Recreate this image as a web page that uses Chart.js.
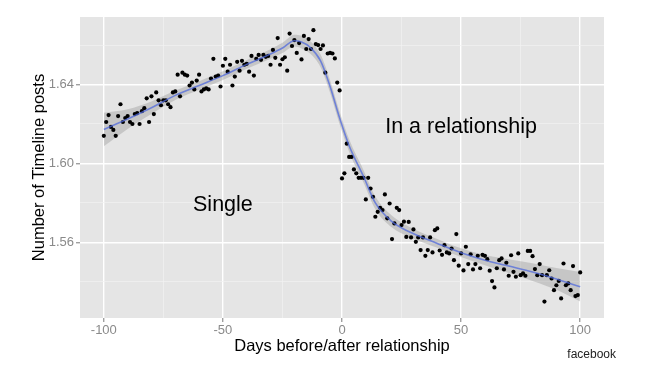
<!DOCTYPE html>
<html>
<head>
<meta charset="utf-8">
<script src="https://cdn.jsdelivr.net/npm/chart.js@4.4.0/dist/chart.umd.min.js"></script>
<style>
  body { margin: 0; background: #fff; }
  #wrap { width: 657px; height: 367px; position: relative; }
</style>
</head>
<body>
<div id="wrap"><canvas id="timeline-chart"></canvas></div>
<script>
// Days relative to the relationship start
var days = [
  -100, -99, -98, -97, -96, -95, -94, -93, -92, -91, -90, -89, -88, -87, -86, -85, -84, -83, -82, -81,
  -80, -79, -78, -77, -76, -75, -74, -73, -72, -71, -70, -69, -68, -67, -66, -65, -64, -63, -62, -61,
  -60, -59, -58, -57, -56, -55, -54, -53, -52, -51, -50, -49, -48, -47, -46, -45, -44, -43, -42, -41,
  -40, -39, -38, -37, -36, -35, -34, -33, -32, -31, -30, -29, -28, -27, -26, -25, -24, -23, -22, -21,
  -20, -19, -18, -17, -16, -15, -14, -13, -12, -11, -10, -9, -8, -7, -6, -5, -4, -3, -2, -1,
  0, 1, 2, 3, 4, 5, 6, 7, 8, 9, 10, 11, 12, 13, 14, 15, 16, 17, 18, 19,
  20, 21, 22, 23, 24, 25, 26, 27, 28, 29, 30, 31, 32, 33, 34, 35, 36, 37, 38, 39,
  40, 41, 42, 43, 44, 45, 46, 47, 48, 49, 50, 51, 52, 53, 54, 55, 56, 57, 58, 59,
  60, 61, 62, 63, 64, 65, 66, 67, 68, 69, 70, 71, 72, 73, 74, 75, 76, 77, 78, 79,
  80, 81, 82, 83, 84, 85, 86, 87, 88, 89, 90, 91, 92, 93, 94, 95, 96, 97, 98, 99,
  100
];

// Average number of timeline posts for each day
var posts = [
  1.6140, 1.6210, 1.6245, 1.6185, 1.6170, 1.6140, 1.6240, 1.6300, 1.6210, 1.6230,
  1.6240, 1.6210, 1.6200, 1.6250, 1.6255, 1.6200, 1.6265, 1.6280, 1.6330, 1.6210,
  1.6340, 1.6250, 1.6360, 1.6320, 1.6295, 1.6320, 1.6320, 1.6300, 1.6285, 1.6360,
  1.6365, 1.6450, 1.6340, 1.6460, 1.6450, 1.6445, 1.6395, 1.6410, 1.6375, 1.6420,
  1.6450, 1.6365, 1.6375, 1.6380, 1.6375, 1.6430, 1.6530, 1.6440, 1.6445, 1.6390,
  1.6495, 1.6530, 1.6465, 1.6500, 1.6395, 1.6440, 1.6515, 1.6470, 1.6520, 1.6500,
  1.6505, 1.6465, 1.6545, 1.6445, 1.6530, 1.6550, 1.6525, 1.6550, 1.6540, 1.6545,
  1.6500, 1.6575, 1.6535, 1.6635, 1.6500, 1.6528, 1.6538, 1.6470, 1.6658, 1.6595,
  1.6625, 1.6560, 1.6610, 1.6527, 1.6646, 1.6580, 1.6630, 1.6580, 1.6675, 1.6605,
  1.6600, 1.6580, 1.6598, 1.6460, 1.6557, 1.6560, 1.6557, 1.6532, 1.6410, 1.6370,
  1.5924, 1.5950, 1.6100, 1.6033, 1.6033, 1.5970, 1.5950, 1.5927, 1.5927, 1.5927,
  1.5818, 1.5927, 1.5873, 1.5831, 1.5730, 1.5755, 1.5775, 1.5764, 1.5843, 1.5722,
  1.5797, 1.5617, 1.5696, 1.5775, 1.5764, 1.5688, 1.5705, 1.5628, 1.5704, 1.5625,
  1.5666, 1.5603, 1.5625, 1.5561, 1.5625, 1.5532, 1.5561, 1.5625, 1.5549, 1.5662,
  1.5671, 1.5559, 1.5537, 1.5586, 1.5549, 1.5544, 1.5569, 1.5510, 1.5642, 1.5482,
  1.5544, 1.5458, 1.5578, 1.5490, 1.5540, 1.5463, 1.5490, 1.5532, 1.5469, 1.5537,
  1.5532, 1.5515, 1.5457, 1.5404, 1.5372, 1.5469, 1.5510, 1.5519, 1.5463, 1.5497,
  1.5431, 1.5535, 1.5451, 1.5426, 1.5544, 1.5434, 1.5443, 1.5431, 1.5557, 1.5557,
  1.5530, 1.5465, 1.5434, 1.5490, 1.5434, 1.5300, 1.5434, 1.5459, 1.5417, 1.5358,
  1.5383, 1.5405, 1.5316, 1.5493, 1.5383, 1.5392, 1.5358, 1.5480, 1.5328, 1.5333,
  1.5448
];

// Smoothed trend (loess) and its standard error band, read at a few days
var smoothDays = [-100, -90, -80, -70, -60, -50, -40, -30, -25, -20, -17, -13.5, -9, -5, -1, 3, 9, 14, 21, 28, 40, 50, 60, 70, 80, 90, 100];
var smoothFit  = [1.6172, 1.6225, 1.6282, 1.6345, 1.6395, 1.6445, 1.6502, 1.6555, 1.6585, 1.6622, 1.6615, 1.6590, 1.6520, 1.6390, 1.6230, 1.6090, 1.5935, 1.5800, 1.5705, 1.5655, 1.5595, 1.5548, 1.5510, 1.5480, 1.5450, 1.5415, 1.5375];
var smoothSe   = [0.0085, 0.0050, 0.0032, 0.0024, 0.0022, 0.0022, 0.0022, 0.0024, 0.0026, 0.0030, 0.0032, 0.0032, 0.0032, 0.0032, 0.0032, 0.0032, 0.0032, 0.0032, 0.0030, 0.0026, 0.0022, 0.0022, 0.0026, 0.0035, 0.0045, 0.0055, 0.0075];

// Axis ticks (major get labels, minor only grid lines)
var xTicks = [-100, -75, -50, -25, 0, 25, 50, 75, 100];
var xMajor = [-100, -50, 0, 50, 100];
var yTicks = [1.54, 1.56, 1.58, 1.60, 1.62, 1.64, 1.66];
var yMajor = [1.56, 1.60, 1.64];

// Text labels inside the panel
var labelSingle = { text: "Single", day: -50, posts: 1.579 };
var labelRelationship = { text: "In a relationship", day: 50, posts: 1.6185 };

var FONT = "'Liberation Sans', Arial, Helvetica, sans-serif";

function isMajor(list, v) {
  for (var i = 0; i < list.length; i++) {
    if (Math.abs(list[i] - v) < 1e-6) return true;
  }
  return false;
}

// Build {x, y} arrays for chart.js
var pointData = days.map(function(d, i) { return { x: d, y: posts[i] }; });
var fitData = smoothDays.map(function(d, i) { return { x: d, y: smoothFit[i] }; });
var upperData = smoothDays.map(function(d, i) { return { x: d, y: smoothFit[i] + smoothSe[i] }; });
var lowerData = smoothDays.map(function(d, i) { return { x: d, y: smoothFit[i] - smoothSe[i] }; });

// ggplot style grey panel + text labels
var ggPlugin = {
  id: 'ggPanel',
  beforeDraw: function(chart) {
    var a = chart.chartArea;
    var ctx = chart.ctx;
    ctx.save();
    ctx.fillStyle = '#e5e5e5';
    ctx.fillRect(a.left, a.top, a.right - a.left, a.bottom - a.top);
    ctx.restore();
  },
  afterDraw: function(chart) {
    var ctx = chart.ctx;
    var xs = chart.scales.x, ys = chart.scales.y;
    var a = chart.chartArea;
    ctx.save();
    ctx.fillStyle = '#000';
    ctx.textAlign = 'center';
    ctx.textBaseline = 'middle';
    ctx.font = '21.5px ' + FONT;
    [labelSingle, labelRelationship].forEach(function(l) {
      ctx.fillText(l.text, xs.getPixelForValue(l.day), ys.getPixelForValue(l.posts));
    });

    // axis titles
    ctx.font = '16.5px ' + FONT;
    ctx.fillText('Days before/after relationship', (a.left + a.right) / 2, 346);
    ctx.save();
    ctx.translate(39, (a.top + a.bottom) / 2);
    ctx.rotate(-Math.PI / 2);
    ctx.fillText('Number of Timeline posts', 0, 0);
    ctx.restore();

    // source note
    ctx.font = '12px ' + FONT;
    ctx.textAlign = 'right';
    ctx.fillStyle = '#222';
    ctx.fillText('facebook', 616, 355);
    ctx.restore();
  }
};

var ctx = document.getElementById('timeline-chart').getContext('2d');

var chart = new Chart(ctx, {
  type: 'scatter',
  data: {
    datasets: [
      {
        label: 'trend',
        type: 'line',
        data: fitData,
        borderColor: 'rgba(80, 105, 220, 0.75)',
        borderWidth: 1.6,
        pointRadius: 0,
        fill: false,
        cubicInterpolationMode: 'monotone',
        order: 1
      },
      {
        label: 'points',
        data: pointData,
        backgroundColor: '#000',
        borderColor: '#000',
        borderWidth: 0,
        pointRadius: 2.1,
        order: 2
      },
      {
        label: 'upper',
        type: 'line',
        data: upperData,
        borderWidth: 0,
        borderColor: 'rgba(0,0,0,0)',
        backgroundColor: 'rgba(153, 153, 153, 0.4)',
        pointRadius: 0,
        fill: '+1',
        cubicInterpolationMode: 'monotone',
        order: 3
      },
      {
        label: 'lower',
        type: 'line',
        data: lowerData,
        borderWidth: 0,
        borderColor: 'rgba(0,0,0,0)',
        pointRadius: 0,
        fill: false,
        cubicInterpolationMode: 'monotone',
        order: 4
      }
    ]
  },
  options: {
    responsive: true,
    maintainAspectRatio: false,
    animation: false,
    layout: { padding: { left: 0, top: 17, right: 53, bottom: 0 } },
    plugins: {
      legend: { display: false },
      tooltip: { enabled: false }
    },
    scales: {
      x: {
        type: 'linear',
        min: -110,
        max: 110,
        afterBuildTicks: function(scale) {
          scale.ticks = xTicks.map(function(v) { return { value: v }; });
        },
        afterFit: function(scale) { scale.height = 49; },
        border: { display: false },
        grid: {
          color: function(c) { return isMajor(xMajor, c.tick.value) ? '#ffffff' : '#f2f2f2'; },
          lineWidth: function(c) { return isMajor(xMajor, c.tick.value) ? 1.4 : 0.7; },
          tickColor: function(c) { return isMajor(xMajor, c.tick.value) ? '#a0a0a0' : 'rgba(0,0,0,0)'; },
          tickLength: 4,
          drawTicks: true
        },
        ticks: {
          autoSkip: false,
          maxRotation: 0,
          padding: 1,
          color: '#8a8a8a',
          font: { family: FONT, size: 13 },
          callback: function(v) { return isMajor(xMajor, v) ? String(v) : ''; }
        }
      },
      y: {
        type: 'linear',
        min: 1.5217,
        max: 1.6742,
        afterBuildTicks: function(scale) {
          scale.ticks = yTicks.map(function(v) { return { value: v }; });
        },
        afterFit: function(scale) { scale.width = 80; },
        border: { display: false },
        grid: {
          color: function(c) { return isMajor(yMajor, c.tick.value) ? '#ffffff' : '#f2f2f2'; },
          lineWidth: function(c) { return isMajor(yMajor, c.tick.value) ? 1.4 : 0.7; },
          tickColor: function(c) { return isMajor(yMajor, c.tick.value) ? '#a0a0a0' : 'rgba(0,0,0,0)'; },
          tickLength: 4,
          drawTicks: true
        },
        ticks: {
          autoSkip: false,
          padding: 2,
          color: '#8a8a8a',
          font: { family: FONT, size: 13 },
          callback: function(v) { return isMajor(yMajor, v) ? v.toFixed(2) : ''; }
        }
      }
    }
  },
  plugins: [ggPlugin]
});
</script>
</body>
</html>
